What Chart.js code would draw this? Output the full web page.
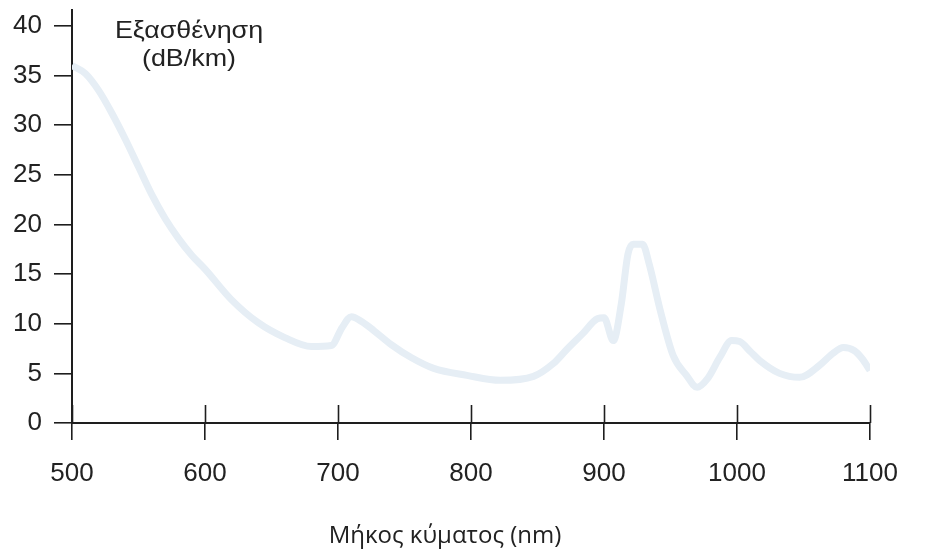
<!DOCTYPE html>
<html>
<head>
<meta charset="utf-8">
<script src="https://cdn.jsdelivr.net/npm/chart.js@4/dist/chart.umd.min.js"></script>
<style>
  html, body { margin: 0; padding: 0; background: #ffffff; }
  #wrap { width: 932px; height: 557px; }
</style>
</head>
<body>
<div id="wrap"><canvas id="c" width="932" height="557"></canvas></div>
<script>
// Wavelength (nm) and attenuation (dB/km)
const wavelengths = [500, 510, 520, 530, 540, 550, 560, 570, 580, 590, 600, 620, 640, 660, 680, 695, 703, 710, 718, 727, 740, 755, 772, 797, 822, 847, 862, 872, 884, 895, 900, 907, 913, 918, 922, 929, 934, 942, 952, 962, 970, 978, 987, 996, 1002, 1010, 1017, 1032, 1047, 1062, 1072, 1080, 1088, 1094, 1100];
const attenuation = [36, 35.2, 33.5, 31.2, 28.6, 25.8, 23, 20.6, 18.6, 16.9, 15.5, 12.4, 10.1, 8.6, 7.7, 7.8, 9.6, 10.7, 10.2, 9.3, 7.9, 6.6, 5.5, 4.8, 4.3, 4.7, 6, 7.4, 9, 10.5, 10.6, 8.3, 12, 17, 18, 18, 16, 11.5, 6.8, 4.8, 3.6, 4.5, 6.6, 8.3, 8.2, 7.2, 6.3, 5, 4.6, 5.8, 7, 7.6, 7.3, 6.5, 5.3];
const xTicks = [500, 600, 700, 800, 900, 1000, 1100];
const yTicks = [0, 5, 10, 15, 20, 25, 30, 35, 40];
const yTitleLines = ['Εξασθένηση', '(dB/km)'];
const xTitle = 'Μήκος κύματος (nm)';

const points = wavelengths.map((w, i) => ({ x: w, y: attenuation[i] }));
const ink = '#1e1e1e';

const decor = {
  id: 'decor',
  afterDraw(chart) {
    const ctx = chart.ctx;
    const xs = chart.scales.x;
    const ca = chart.chartArea;
    ctx.save();
    // upper half of the crossing x ticks
    ctx.strokeStyle = ink;
    ctx.lineWidth = 1.6;
    xs.ticks.forEach((t, i) => {
      const px = Math.round(xs.getPixelForTick(i)) + 0.5;
      ctx.beginPath();
      ctx.moveTo(px, ca.bottom);
      ctx.lineTo(px, ca.bottom - 18);
      ctx.stroke();
    });
    // titles
    ctx.fillStyle = '#222';
    ctx.textAlign = 'center';
    ctx.textBaseline = 'middle';
    ctx.save();
    ctx.translate(189, 0);
    ctx.scale(1.12, 1);
    ctx.font = '24px "Liberation Sans", Arial, sans-serif';
    ctx.fillText(yTitleLines[0], 0, 31);
    ctx.fillText(yTitleLines[1], 0, 59);
    ctx.restore();
    ctx.font = '24px "Open Sans", sans-serif';
    ctx.fillText(xTitle, 445, 536);
    ctx.restore();
  }
};

new Chart(document.getElementById('c'), {
  type: 'line',
  data: {
    datasets: [{
      data: points,
      borderColor: '#e6eef5',
      borderWidth: 7,
      pointRadius: 0,
      tension: 0.4,
      cubicInterpolationMode: 'monotone',
      fill: false
    }]
  },
  options: {
    responsive: false,
    animation: false,
    events: [],
    layout: { padding: { left: 0, right: 62, top: 10, bottom: 0 } },
    plugins: { legend: { display: false }, tooltip: { enabled: false } },
    scales: {
      x: {
        type: 'linear',
        min: 500,
        max: 1100,
        afterBuildTicks: s => { s.ticks = xTicks.map(v => ({ value: v })); },
        afterFit: s => { s.height = 134; s.paddingLeft = 0; s.paddingRight = 0; },
        ticks: {
          color: '#222',
          padding: 18,
          maxRotation: 0,
          autoSkip: false,
          font: { family: '"Liberation Sans", Arial, sans-serif', size: 26 },
          callback: v => String(v)
        },
        grid: { drawOnChartArea: false, drawTicks: true, tickLength: 17, color: ink, lineWidth: 1.6 },
        border: { display: true, color: ink, width: 2 }
      },
      y: {
        type: 'linear',
        min: 0,
        max: 41.6,
        afterBuildTicks: s => { s.ticks = yTicks.map(v => ({ value: v })); },
        afterFit: s => { s.width = 72; s.paddingTop = 0; s.paddingBottom = 0; },
        ticks: {
          color: '#222',
          padding: 12,
          autoSkip: false,
          font: { family: '"Liberation Sans", Arial, sans-serif', size: 26 },
          callback: v => String(v)
        },
        grid: { drawOnChartArea: false, drawTicks: true, tickLength: 18, color: ink, lineWidth: 1.6 },
        border: { display: true, color: ink, width: 2 }
      }
    }
  },
  plugins: [decor]
});
</script>
</body>
</html>
